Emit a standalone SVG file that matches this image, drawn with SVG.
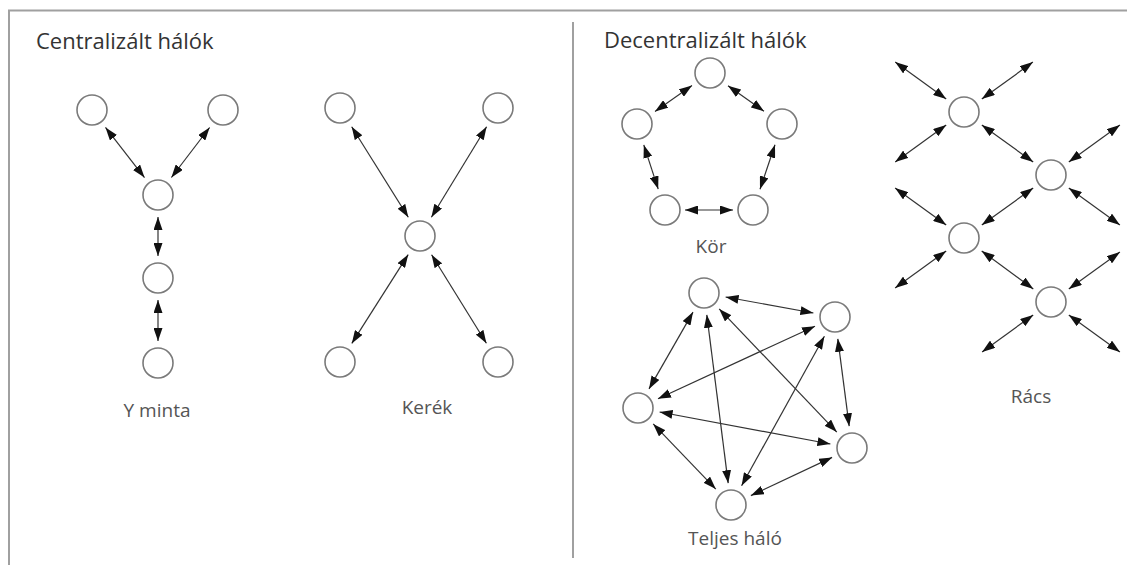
<svg xmlns="http://www.w3.org/2000/svg" width="1127" height="565" viewBox="0 0 1127 565">
<style>
.frame{stroke:#a0a0a0;stroke-width:2;fill:none}
.node{fill:#fff;stroke:#7a7a7a;stroke-width:1.6}
.edge{stroke:#333;stroke-width:1.2;fill:none;marker-start:url(#ah);marker-end:url(#ah)}
.title{font-family:"Open Sans","Liberation Sans",sans-serif;font-size:22px;fill:#333}
.label{font-family:"Open Sans","Liberation Sans",sans-serif;font-size:19px;fill:#555;text-anchor:middle}
</style>
<defs>
<marker id="ah" markerUnits="userSpaceOnUse" markerWidth="14" markerHeight="9" refX="13" refY="4.5" orient="auto-start-reverse">
<path d="M0,0 L13,4.5 L0,9 z" fill="#111"/>
</marker>
</defs>
<rect width="1127" height="565" fill="#fff"/>
<g id="frame">
<path class="frame" d="M9,565 V10.5 H1127"/>
<line class="frame" x1="573" y1="22" x2="573" y2="558"/>
</g>
<g id="titles">
<text class="title" x="36" y="49">Centralizált hálók</text>
<text class="title" x="604" y="48">Decentralizált hálók</text>
</g>
<g id="connectors">
<line class="edge" x1="105.5" y1="127.4" x2="144.5" y2="177.6"/>
<line class="edge" x1="209.6" y1="127.5" x2="171.4" y2="177.5"/>
<line class="edge" x1="158" y1="217" x2="158" y2="256"/>
<line class="edge" x1="158" y1="300" x2="158" y2="341"/>
<line class="edge" x1="351.7" y1="126.7" x2="408.3" y2="217.3"/>
<line class="edge" x1="486.6" y1="126.8" x2="431.4" y2="217.2"/>
<line class="edge" x1="408.2" y1="254.6" x2="351.8" y2="343.4"/>
<line class="edge" x1="431.6" y1="254.7" x2="486.4" y2="343.3"/>
<line class="edge" x1="692" y1="85.6" x2="655" y2="111.4"/>
<line class="edge" x1="728" y1="85.7" x2="764" y2="111.3"/>
<line class="edge" x1="643.8" y1="144.9" x2="658.2" y2="189.1"/>
<line class="edge" x1="775" y1="144.8" x2="760" y2="189.2"/>
<line class="edge" x1="685" y1="210" x2="733" y2="210"/>
<line class="edge" x1="981.8" y1="124.9" x2="1033.2" y2="162.1"/>
<line class="edge" x1="1033.2" y1="187.9" x2="981.8" y2="225.1"/>
<line class="edge" x1="981.7" y1="251" x2="1033.3" y2="288.9"/>
<line class="edge" x1="946.2" y1="99.1" x2="895.2" y2="62.1"/>
<line class="edge" x1="981.8" y1="99.1" x2="1032.9" y2="62.1"/>
<line class="edge" x1="946.2" y1="124.9" x2="895.2" y2="161.9"/>
<line class="edge" x1="1068.8" y1="162.1" x2="1119.9" y2="125.1"/>
<line class="edge" x1="1068.8" y1="187.9" x2="1119.9" y2="224.9"/>
<line class="edge" x1="946.2" y1="225.1" x2="895.1" y2="188.1"/>
<line class="edge" x1="946.2" y1="250.9" x2="895.1" y2="287.9"/>
<line class="edge" x1="1068.8" y1="289.1" x2="1119.9" y2="252.1"/>
<line class="edge" x1="1068.8" y1="314.9" x2="1119.9" y2="351.9"/>
<line class="edge" x1="1033.2" y1="314.9" x2="982.1" y2="351.9"/>
<line class="edge" x1="725.6" y1="297" x2="813.4" y2="313"/>
<line class="edge" x1="693" y1="312.1" x2="649" y2="388.9"/>
<line class="edge" x1="706.8" y1="314.8" x2="728.2" y2="483.2"/>
<line class="edge" x1="719.2" y1="308.9" x2="836.8" y2="432.1"/>
<line class="edge" x1="815" y1="326.2" x2="658" y2="398.8"/>
<line class="edge" x1="824.4" y1="336.3" x2="741.6" y2="485.7"/>
<line class="edge" x1="837.8" y1="338.8" x2="849.2" y2="426.2"/>
<line class="edge" x1="659.6" y1="412" x2="830.4" y2="444"/>
<line class="edge" x1="653.2" y1="423.9" x2="715.8" y2="489.1"/>
<line class="edge" x1="832.1" y1="457.4" x2="750.9" y2="495.6"/>
</g>
<g id="y-minta">
<circle id="y1" class="node" cx="92" cy="110" r="15"/>
<circle id="y2" class="node" cx="223" cy="110" r="15"/>
<circle id="y3" class="node" cx="158" cy="195" r="15"/>
<circle id="y4" class="node" cx="158" cy="278" r="15"/>
<circle id="y5" class="node" cx="158" cy="363" r="15"/>
<text class="label" x="157" y="417">Y minta</text>
</g>
<g id="kerek">
<circle id="k1" class="node" cx="340" cy="108" r="15"/>
<circle id="k2" class="node" cx="498" cy="108" r="15"/>
<circle id="k3" class="node" cx="420" cy="236" r="15"/>
<circle id="k4" class="node" cx="340" cy="362" r="15"/>
<circle id="k5" class="node" cx="498" cy="362" r="15"/>
<text class="label" x="427" y="414">Kerék</text>
</g>
<g id="kor">
<circle id="c1" class="node" cx="710" cy="73" r="15"/>
<circle id="c2" class="node" cx="637" cy="124" r="15"/>
<circle id="c3" class="node" cx="782" cy="124" r="15"/>
<circle id="c4" class="node" cx="665" cy="210" r="15"/>
<circle id="c5" class="node" cx="753" cy="210" r="15"/>
<text class="label" x="711" y="253">Kör</text>
</g>
<g id="racs">
<circle id="r1" class="node" cx="964" cy="112" r="15"/>
<circle id="r2" class="node" cx="1051" cy="175" r="15"/>
<circle id="r3" class="node" cx="964" cy="238" r="15"/>
<circle id="r4" class="node" cx="1051" cy="302" r="15"/>
<text class="label" x="1031" y="403">Rács</text>
</g>
<g id="teljes-halo">
<circle id="t1" class="node" cx="704" cy="293" r="15"/>
<circle id="t2" class="node" cx="835" cy="317" r="15"/>
<circle id="t3" class="node" cx="638" cy="408" r="15"/>
<circle id="t4" class="node" cx="852" cy="448" r="15"/>
<circle id="t5" class="node" cx="731" cy="505" r="15"/>
<text class="label" x="735" y="545">Teljes háló</text>
</g>
</svg>
